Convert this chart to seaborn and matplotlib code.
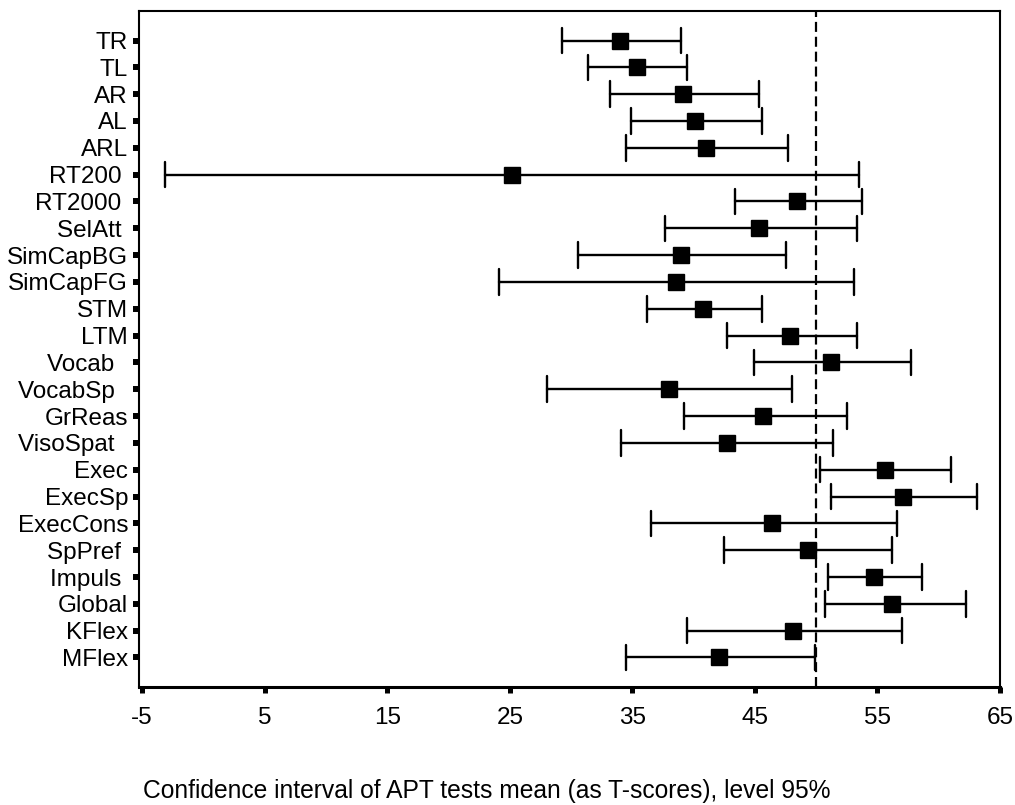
import numpy as np
import pandas as pd
import matplotlib
matplotlib.use('Agg')
import matplotlib.pyplot as plt
import seaborn as sns

################ 데이터 ################

# 검사 항목 (위에서 아래 순서)
tests = ['TR', 'TL', 'AR', 'AL', 'ARL', 'RT200', 'RT2000', 'SelAtt', 'SimCapBG',
         'SimCapFG', 'STM', 'LTM', 'Vocab', 'VocabSp', 'GrReas', 'VisoSpat', 'Exec',
         'ExecSp', 'ExecCons', 'SpPref', 'Impuls', 'Global', 'KFlex', 'MFlex']
# 원본 그림의 눈금 라벨 (뒤쪽 공백 포함)
ytick_labels = ['TR', 'TL', 'AR', 'AL', 'ARL', 'RT200 ', 'RT2000 ', 'SelAtt ', 'SimCapBG',
                'SimCapFG', 'STM', 'LTM', 'Vocab  ', 'VocabSp  ', 'GrReas', 'VisoSpat  ', 'Exec',
                'ExecSp', 'ExecCons', 'SpPref ', 'Impuls ', 'Global', 'KFlex', 'MFlex']
# 평균 T-score
mean = [34.0, 35.4, 39.1, 40.1, 41.0, 25.2, 48.4, 45.3, 39.0, 38.6, 40.8, 47.9,
        51.2, 38.0, 45.7, 42.7, 55.6, 57.1, 46.4, 49.3, 54.7, 56.2, 48.1, 42.1]
# 95% 신뢰구간 하한 / 상한
lower = [29.3, 31.4, 33.2, 34.9, 34.5, -3.1, 43.4, 37.7, 30.6, 24.1, 36.2, 42.7,
         44.9, 28.0, 39.2, 34.1, 50.3, 51.2, 36.5, 42.5, 51.0, 50.7, 39.5, 34.5]
upper = [39.0, 39.5, 45.3, 45.6, 47.7, 53.5, 53.7, 53.3, 47.5, 53.1, 45.6, 53.3,
         57.7, 48.0, 52.5, 51.4, 61.0, 63.1, 56.6, 56.2, 58.6, 62.2, 57.0, 49.9]
# 기준 점수 (점선)
ref_score = 50
xticks = [-5, 5, 15, 25, 35, 45, 55, 65]
caption = 'Confidence interval of APT tests mean (as T-scores), level 95%'

# long-form: 항목마다 하한/평균/상한 3개 값 -> median = 평균, min/max = 구간
df = pd.DataFrame({
    'test': np.repeat(tests, 3),
    'score': np.column_stack([lower, mean, upper]).ravel(),
})

################ 시각화 ################

sns.set_style('white')
plt.rcParams['font.family'] = ['Liberation Sans', 'DejaVu Sans']
plt.rcParams['axes.unicode_minus'] = False

fig = plt.figure(figsize=(10.15, 8.05), dpi=100)
ax = fig.add_axes([139 / 1015, 1 - 687 / 805, 861 / 1015, 676 / 805])

ax.axvline(ref_score, color='black', lw=1.6, linestyle=(0, (4.5, 2.2)), zorder=1)

sns.pointplot(data=df, x='score', y='test', order=tests,
              estimator=np.median, errorbar=lambda v: (v.min(), v.max()),
              color='black', markers='s', linestyle='none', capsize=0.95,
              err_kws={'linewidth': 1.7}, markersize=11, markeredgewidth=1,
              ax=ax)

ax.set_xlim(-5.25, 65)
ax.set_ylim(len(tests) - 1 + 1.1, -1.1)
ax.set_xticks(xticks)
ax.set_yticks(range(len(tests)))
ax.set_yticklabels(ytick_labels)
ax.set_xlabel('')
ax.set_ylabel('')

ax.tick_params(axis='y', left=True, length=4.3, width=4.3, pad=3.6,
               labelsize=17.5, color='black', labelcolor='black')
ax.tick_params(axis='x', bottom=True, length=4.5, width=3.6, pad=10,
               labelsize=17.5, color='black', labelcolor='black')

for side in ['left', 'right', 'top']:
    ax.spines[side].set_color('black')
    ax.spines[side].set_linewidth(1.5)
ax.spines['bottom'].set_color('black')
ax.spines['bottom'].set_linewidth(2.2)

fig.text(143 / 1015, 1 - 798 / 805, caption, ha='left', va='baseline',
         fontsize=17.7, color='black')

plt.savefig('out.png', dpi=100)
